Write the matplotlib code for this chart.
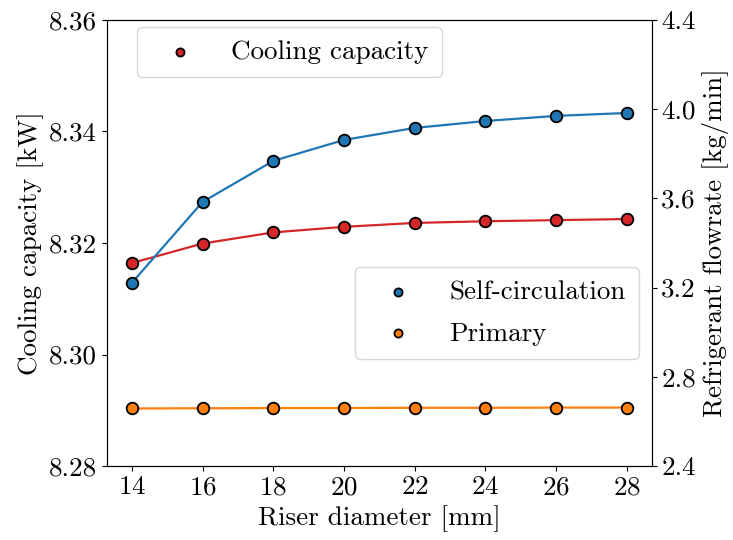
"""
Cooling capacity and refrigerant flowrate vs riser diameter
"""

import numpy as np
import matplotlib
matplotlib.use('Agg')
import matplotlib.pyplot as plt

plt.rcParams['font.family'] = 'serif'
plt.rcParams['font.serif'] = ['cmr10', 'DejaVu Serif']
plt.rcParams['mathtext.fontset'] = 'cm'
plt.rcParams['axes.formatter.use_mathtext'] = True
plt.rcParams['font.size'] = 19.5

#Riser diameter [mm]
diameter = [14, 16, 18, 20, 22, 24, 26, 28]

#Cooling capacity [kW]
capacity = [8.3164, 8.3199, 8.3219, 8.3229, 8.3236, 8.3239, 8.3241, 8.3243]

#Refrigerant flowrate [kg/min]
self_circ = [3.221, 3.584, 3.768, 3.862, 3.916, 3.947, 3.970, 3.983]
primary = [2.658, 2.659, 2.660, 2.660, 2.661, 2.661, 2.662, 2.662]

fig = plt.figure(figsize=(7.33, 5.4), dpi=100)
ax = fig.add_axes([0.146, 0.137, 0.743, 0.826])
ax2 = ax.twinx()

#Left axis: cooling capacity
ax.plot(diameter, capacity, color='tab:red', lw=1.6, zorder=2)
h1 = ax.scatter(diameter, capacity, s=70, color='tab:red', edgecolor='black',
                linewidths=1.3, zorder=3, label='Cooling capacity')

#Right axis: flowrates
ax2.plot(diameter, self_circ, color='tab:blue', lw=1.6, zorder=2)
h2 = ax2.scatter(diameter, self_circ, s=70, color='tab:blue', edgecolor='black',
                 linewidths=1.3, zorder=3, label='Self-circulation')
ax2.plot(diameter, primary, color='tab:orange', lw=1.6, zorder=2)
h3 = ax2.scatter(diameter, primary, s=70, color='tab:orange', edgecolor='black',
                 linewidths=1.3, zorder=3, label='Primary')

ax.set_ylim(8.28, 8.36)
ax.set_yticks(np.arange(8.28, 8.3601, 0.02))
ax.set_yticklabels(['%.2f' % v for v in np.arange(8.28, 8.3601, 0.02)])
ax2.set_ylim(2.4, 4.4)
ax2.set_yticks(np.arange(2.4, 4.401, 0.4))
ax2.set_yticklabels(['%.1f' % v for v in np.arange(2.4, 4.401, 0.4)])
ax.set_xticks(diameter)

ax.set_xlabel('Riser diameter [mm]')
ax.set_ylabel('Cooling capacity [kW]')
ax2.set_ylabel('Refrigerant flowrate [kg/min]')

ax.legend(handles=[h1], loc='upper left', bbox_to_anchor=(0.055, 0.984),
          borderaxespad=0, markerscale=0.7, handlelength=2.2,
          borderpad=0.48, labelspacing=0.65)
ax2.legend(handles=[h2, h3], loc='upper right', bbox_to_anchor=(0.976, 0.446),
           borderaxespad=0, markerscale=0.7, handlelength=2.2,
           borderpad=0.48, labelspacing=0.65)

plt.savefig('out.png', dpi=100)
